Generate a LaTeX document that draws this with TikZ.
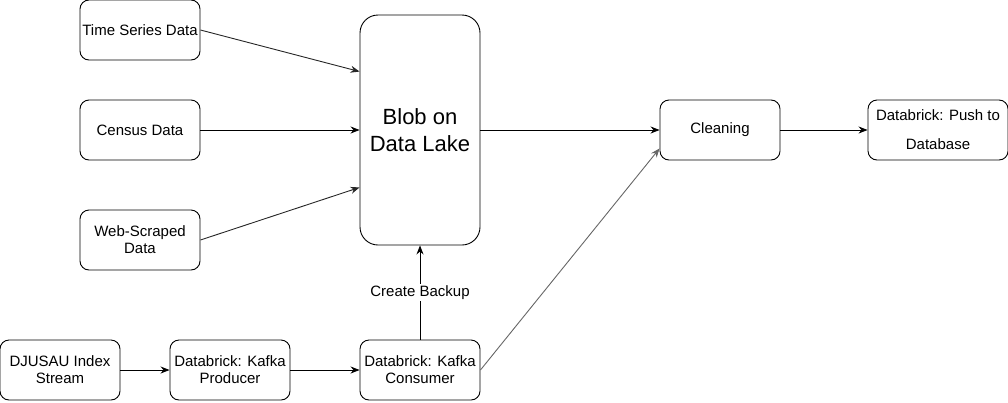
\documentclass[tikz,border=0pt]{standalone}
\usepackage{fontspec}
\setmainfont{Liberation Sans}
\usetikzlibrary{arrows.meta}

\begin{document}
\begin{tikzpicture}[x=1pt,y=-1pt,
		box/.style={draw,rounded corners=9pt,minimum width=120pt,minimum height=60pt,
			inner sep=1pt,align=center,font=\fontsize{15}{17}\selectfont,line width=0.9pt},
		flow/.style={-{Stealth[length=9pt,width=7pt]},line width=0.9pt}]
		\useasboundingbox (0,0) rectangle (1008,402);
		\node [box] (series) at (140,30) {Time Series Data};
		\node [box] (census) at (140,130) {Census Data};
		\node [box] (scraped) at (140,240) {Web-Scraped\\Data};
		\node [box,minimum height=230pt,rounded corners=18pt,font=\fontsize{22}{27}\selectfont] (lake) at (420,130) {Blob on\\Data Lake};
		\node [box] (clean) at (720,130) {Cleaning};
		\node [box,minimum width=140pt,font=\fontsize{15}{29}\selectfont] (push) at (938,130) {Databrick: Push to\\Database};
		\node [box] (index) at (60,370) {DJUSAU Index\\Stream};
		\node [box] (producer) at (230,370) {Databrick: Kafka\\Producer};
		\node [box] (consumer) at (420,370) {Databrick: Kafka\\Consumer};
		\draw [flow,black!85] (series.east) to ([yshift=-57pt]lake.north west); % diagonal
		\draw [flow] (census) to (lake);
		\draw [flow,black!85] (scraped.east) to ([yshift=58pt]lake.south west); % diagonal
		\draw [flow] (lake) to (clean);
		\draw [flow] (clean) to (push);
		\draw [flow] (index) to (producer);
		\draw [flow] (producer) to (consumer);
		\draw [flow] (consumer) to node [fill=white,font=\fontsize{15}{17}\selectfont,inner sep=2pt] {Create Backup} (lake);
		\draw [flow,black!60] (consumer.east) to ([yshift=12pt]clean.south west);
\end{tikzpicture}
\end{document}
